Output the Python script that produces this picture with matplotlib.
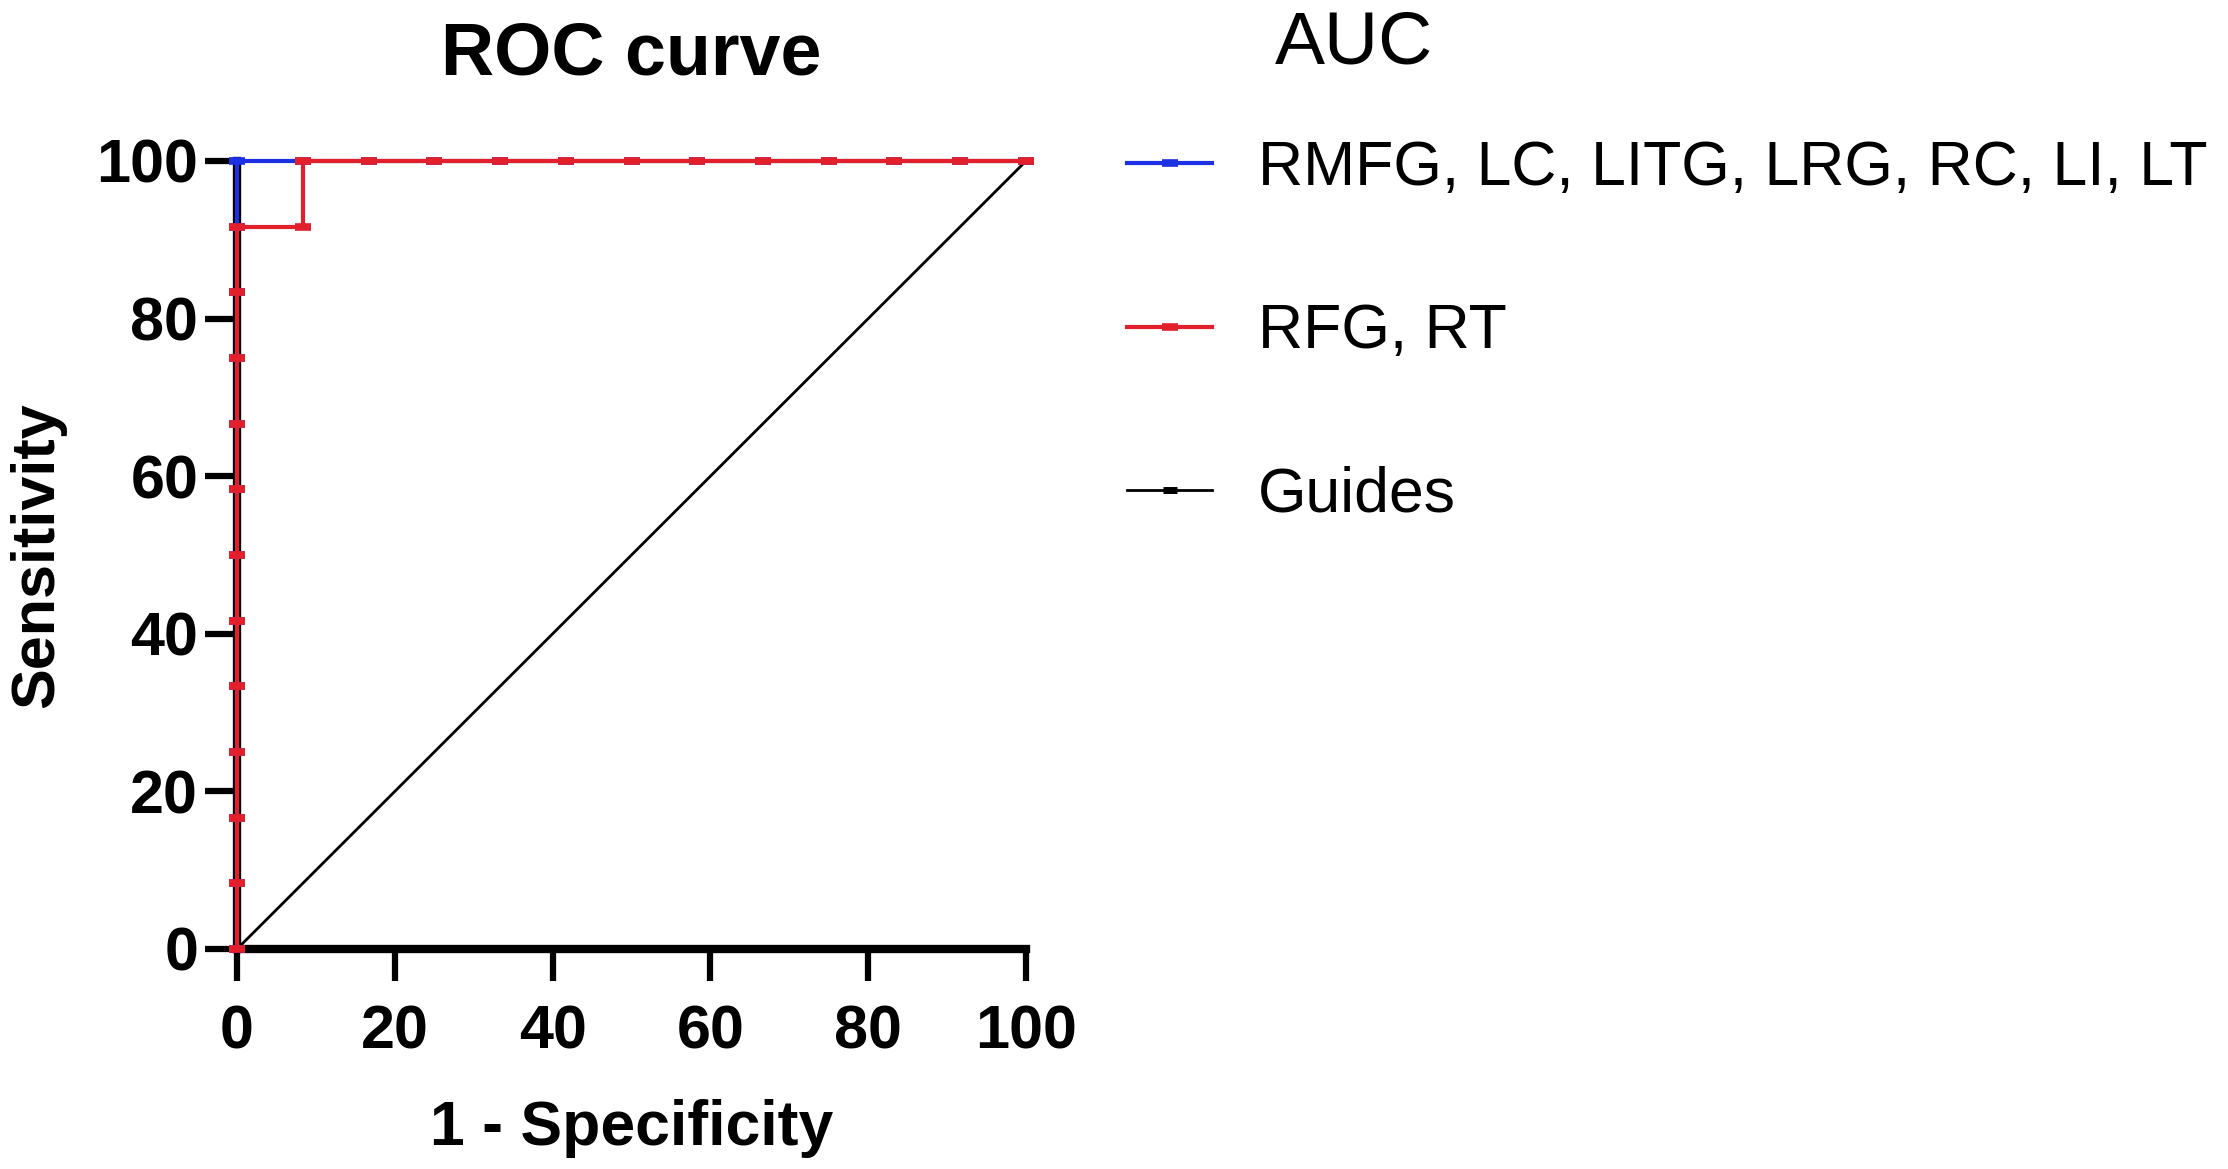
import matplotlib
matplotlib.use("Agg")
import matplotlib.pyplot as plt

plt.rcParams['font.family'] = ['Liberation Sans', 'DejaVu Sans']

# ROC points (percent), 12 cases per group
red_x = [0, 0, 0, 0, 0, 0, 0, 0, 0, 0, 0, 0, 8.33, 8.33, 16.67, 25, 33.33,
         41.67, 50, 58.33, 66.67, 75, 83.33, 91.67, 100]
red_y = [0, 8.33, 16.67, 25, 33.33, 41.67, 50, 58.33, 66.67, 75, 83.33,
         91.67, 91.67, 100, 100, 100, 100, 100, 100, 100, 100, 100, 100, 100, 100]
blue_x = [0, 0, 0, 0, 0, 0, 0, 0, 0, 0, 0, 0, 0, 8.33, 16.67, 25, 33.33,
          41.67, 50, 58.33, 66.67, 75, 83.33, 91.67, 100]
blue_y = [0, 8.33, 16.67, 25, 33.33, 41.67, 50, 58.33, 66.67, 75, 83.33,
          91.67, 100, 100, 100, 100, 100, 100, 100, 100, 100, 100, 100, 100, 100]
guide_x = [0, 100]
guide_y = [0, 100]

labels = ['RMFG, LC, LITG, LRG, RC, LI, LT', 'RFG, RT', 'Guides']
ticks = [0, 20, 40, 60, 80, 100]

blue = '#1c30e4'
red = '#e2202c'

fig = plt.figure(figsize=(22.28, 11.69), dpi=100)
ax = fig.add_axes([0.1064, 0.1882, 0.3541, 0.6741])

ax.plot(guide_x, guide_y, color='black', lw=2, marker='_', ms=10, mew=5,
        clip_on=False, zorder=3, label=labels[2])
ax.plot(blue_x, blue_y, color=blue, lw=3, marker='_', ms=12, mew=5.5,
        clip_on=False, zorder=4, label=labels[0])
ax.plot(red_x, red_y, color=red, lw=3, marker='_', ms=12, mew=5.5,
        clip_on=False, zorder=5, label=labels[1])

ax.set_xlim(0, 100)
ax.set_ylim(0, 100)
ax.set_xticks(ticks)
ax.set_yticks(ticks)
for s in ['top', 'right']:
    ax.spines[s].set_visible(False)
for s in ['left', 'bottom']:
    ax.spines[s].set_linewidth(6)
ax.tick_params(length=23, width=4.5, labelsize=44, direction='out')
ax.tick_params(axis='x', pad=17)
ax.tick_params(axis='y', pad=5)
for t in ax.get_xticklabels() + ax.get_yticklabels():
    t.set_fontweight('bold')

ax.set_title('ROC curve', fontsize=53, fontweight='bold', pad=62)
ax.set_xlabel('1 - Specificity', fontsize=45, fontweight='bold', labelpad=27)
ax.set_ylabel('Sensitivity', fontsize=44, fontweight='bold', labelpad=22)

h, l = ax.get_legend_handles_labels()
order = [1, 2, 0]
fig.legend([h[i] for i in order], [l[i] for i in order],
           loc='upper left', bbox_to_anchor=(1127 / 2228, 1 - 139 / 1169),
           frameon=False, fontsize=45, handlelength=1.36, handletextpad=0.74,
           labelspacing=1.67, borderpad=0, borderaxespad=0)
fig.text(1275 / 2228, 1 - 63 / 1169, 'AUC', fontsize=54, ha='left', va='baseline')

fig.savefig('out.png', dpi=100)
